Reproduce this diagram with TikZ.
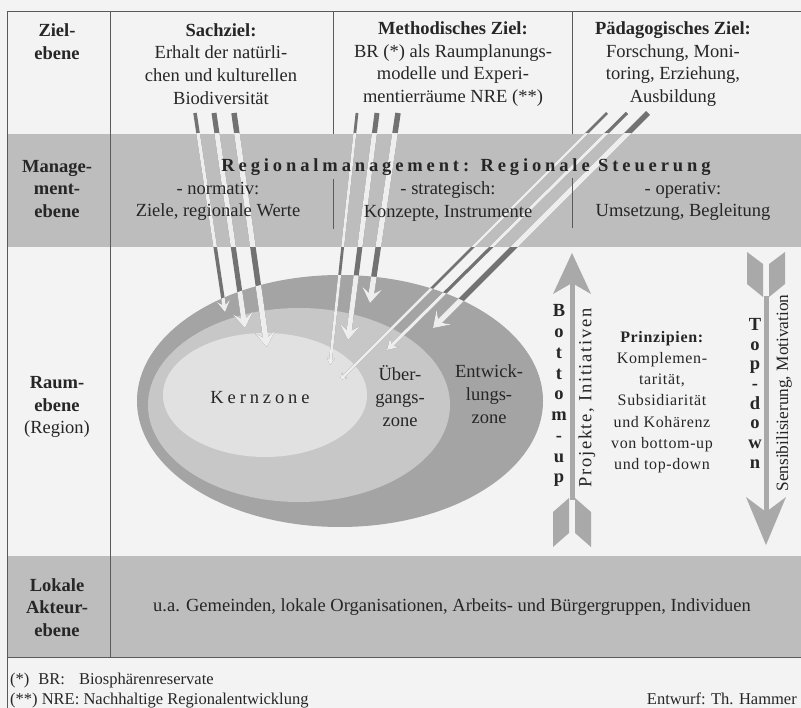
\documentclass[tikz,border=0pt]{standalone}
\usepackage{fontspec}
\setmainfont{Liberation Serif}
\newfontfamily\widefont[LetterSpace=21]{Liberation Serif}
\newfontfamily\semiwidefont[LetterSpace=9]{Liberation Serif}
\newfontfamily\looseserif[LetterSpace=4]{Liberation Serif}
\usetikzlibrary{arrows.meta}

\definecolor{paper}{HTML}{F3F3F3}
\definecolor{band}{HTML}{BDBDBD}
\definecolor{rulegrey}{HTML}{5A5A5A}
\definecolor{zoneouter}{HTML}{A4A4A4}
\definecolor{zonemid}{HTML}{C7C7C7}
\definecolor{zonecore}{HTML}{E1E1E1}
\definecolor{flowdark}{HTML}{727272}
\definecolor{flowlight}{HTML}{EEEEEE}
\definecolor{bigarrow}{HTML}{A9A9A9}
\definecolor{ink}{HTML}{262626}

\newcommand\bodytxt{\fontsize{18.5}{22.7}\selectfont}
\newcommand\principletxt{\fontsize{16}{21.2}\selectfont}
\newcommand\sidetxt{\fontsize{17.3}{20}\selectfont}
\newcommand\notetxt{\fontsize{16.5}{21}\selectfont}

\tikzset{
  tipS/.tip={Stealth[length=7pt,width=8pt,inset=3pt]},
  tipM/.tip={Stealth[length=11pt,width=13pt,inset=5pt]},
  tipL/.tip={Stealth[length=15pt,width=20pt,inset=7pt]},
  rule/.style={draw=rulegrey,line width=1pt},
  txt/.style={font=\bodytxt,text=ink,align=center,inner sep=0pt},
  note/.style={font=\notetxt,text=ink,inner sep=0pt},
  letter/.style={font=\bodytxt\bfseries,text=ink,inner sep=0pt,anchor=base},
  fillarrow/.style={fill=bigarrow},
}

% the nine goal flows, drawn in the colour given as argument
\newcommand\goalflows[1]{%
  \draw[#1,line width=3.5pt,-tipM] (sa) -- (ea);
  \draw[#1,line width=5pt,-tipL]   (sb) -- (eb);
  \draw[#1,line width=5.5pt,-tipL] (sc) -- (ec);
  \draw[#1,line width=2.8pt,-tipS] (ma) -- (fa);
  \draw[#1,line width=5pt,-tipL]   (mb) -- (fb);
  \draw[#1,line width=5.5pt,-tipL] (mc) -- (fc);
  \draw[#1,line width=2.6pt,-tipS] (pa) -- (ga);
  \draw[#1,line width=3.2pt,-tipM] (pb) -- (gb);
  \draw[#1,line width=5.5pt,-tipL] (pc) -- (gc);
}

\begin{document}
\begin{tikzpicture}[x=1pt,y=-1pt]
\useasboundingbox (0,0) rectangle (801,708);
\fill[paper] (0,0) rectangle (801,708);

% grey level bands
\fill[band] (7,134) rectangle (801,247);
\fill[band] (7,556) rectangle (801,657);

% zones of the region
\fill[zoneouter] (340,401) ellipse [x radius=203, y radius=126];
\fill[zonemid]   (299,405) ellipse [x radius=151, y radius=97];
\fill[zonecore]  (265,395) ellipse [x radius=102, y radius=62];

% start and end points of the goal flows
\coordinate (sa) at (195,113); \coordinate (ea) at (225,312);
\coordinate (sb) at (214,113); \coordinate (eb) at (245,328);
\coordinate (sc) at (234,113); \coordinate (ec) at (267,347);
\coordinate (ma) at (357,113); \coordinate (fa) at (330,365);
\coordinate (mb) at (377,113); \coordinate (fb) at (348,340);
\coordinate (mc) at (398,113); \coordinate (fc) at (370,303);
\coordinate (pa) at (607,113); \coordinate (ga) at (340,380);
\coordinate (pb) at (627,113); \coordinate (gb) at (387,350);
\coordinate (pc) at (648,113); \coordinate (gc) at (433,328);

% dark on white, light on grey
\goalflows{flowdark}
\begin{scope}
  \clip (7,134) rectangle (801,247);
  \goalflows{flowlight}
\end{scope}
\begin{scope}
  \clip (340,401) ellipse [x radius=203, y radius=126];
  \goalflows{flowlight}
\end{scope}

% bottom-up arrow
\fill[fillarrow] (569.5,280) rectangle (574.5,500);
\fill[fillarrow] (572,253) -- (591,294) -- (572,283) -- (553,294) -- cycle;
\fill[fillarrow] (575,498) -- (591,512) -- (591,547) -- (575,533) -- cycle;
\fill[fillarrow] (569,498) -- (553,512) -- (553,547) -- (569,533) -- cycle;

% top-down arrow
\fill[fillarrow] (763.5,296) rectangle (768.5,515);
\fill[fillarrow] (766,545) -- (786,497) -- (766,512) -- (746,497) -- cycle;
\fill[fillarrow] (763,264) -- (747,252) -- (747,284) -- (763,297) -- cycle;
\fill[fillarrow] (769,264) -- (785,252) -- (785,284) -- (769,297) -- cycle;

% table rules
\draw[rule] (7,708) -- (7,12) -- (801,12);
\draw[rule] (110,12) -- (110,657);
\draw[rule] (333,12) -- (333,134);
\draw[rule] (572,12) -- (572,134);
\draw[rule] (7,657) -- (801,657);
\draw[rule] (333,179) -- (333,229);
\draw[rule] (572,178) -- (572,228);

% goal level
\node[txt,font=\bodytxt\bfseries] (lvgoal) at (57,41.5) {Ziel-\\ebene};
\node[txt] (goalsub) at (221,64) {\textbf{Sachziel:}\\Erhalt der natürli-\\chen und kulturellen\\Biodiversität};
\node[txt] (goalmeth) at (453,64) {\textbf{Methodisches Ziel:}\\BR (*) als Raumplanungs-\\modelle und Experi-\\mentierräume NRE (**)};
\node[txt] (goalped) at (673,64) {\textbf{Pädagogisches Ziel:}\\Forschung, Moni-\\toring, Erziehung,\\Ausbildung};

% management level
\node[txt,font=\bodytxt\bfseries] (lvmgmt) at (57,189) {Manage-\\ment-\\ebene};
\node[txt,font=\bodytxt\widefont\bfseries] (mgmt) at (466,167) {Regionalmanagement: Regionale Steuerung};
\node[txt] (norm) at (218,201.5) {- normativ:\\Ziele, regionale Werte};
\node[txt] (strat) at (448,201.5) {- strategisch:\\Konzepte, Instrumente};
\node[txt] (oper) at (683,201.5) {- operativ:\\Umsetzung, Begleitung};

% spatial level
\node[txt] (lvspace) at (57,407) {\textbf{Raum-}\\\textbf{ebene}\\(Region)};
\node[txt,font=\bodytxt\widefont] (core) at (260,398) {Kernzone};
\node[txt] (trans) at (400,396) {Über-\\gangs-\\zone};
\node[txt] (devel) at (489,394) {Entwick-\\lungs-\\zone};
\node[txt,font=\principletxt\looseserif] (principles) at (662,402) {\textbf{Prinzipien:}\\Komplemen-\\tarität,\\Subsidiarität\\und Kohärenz\\von bottom-up\\und top-down};
\node[txt,font=\bodytxt\semiwidefont,rotate=90] (projects) at (587,398) {Projekte, Initiativen};
\node[txt,font=\sidetxt,rotate=90] (motivation) at (784,393) {Sensibilisierung, Motivation};
\foreach \ch [count=\i] in {B,o,t,t,o,m,-,u,p}
  \node[letter] (bu\i) at (559,{317+(\i-1)*20.75}) {\ch};
\foreach \ch [count=\i] in {T,o,p,-,d,o,w,n}
  \node[letter] (td\i) at (755,{330.5+(\i-1)*19.7}) {\ch};

% local actors
\node[txt,font=\bodytxt\bfseries] (lvlocal) at (57,607.5) {Lokale\\Akteur-\\ebene};
\node[txt] (actors) at (452,607) {u.a. Gemeinden, lokale Organisationen, Arbeits- und Bürgergruppen, Individuen};

% footnotes
\node[note,anchor=base west] (fn1) at (10,684) {(*)\hspace{9pt}BR:\hspace{14pt}Biosphärenreservate};
\node[note,anchor=base west] (fn2) at (10,704) {(**) NRE: Nachhaltige Regionalentwicklung};
\node[note,anchor=base east] (credit) at (797,704) {Entwurf: Th. Hammer};
\end{tikzpicture}
\end{document}
